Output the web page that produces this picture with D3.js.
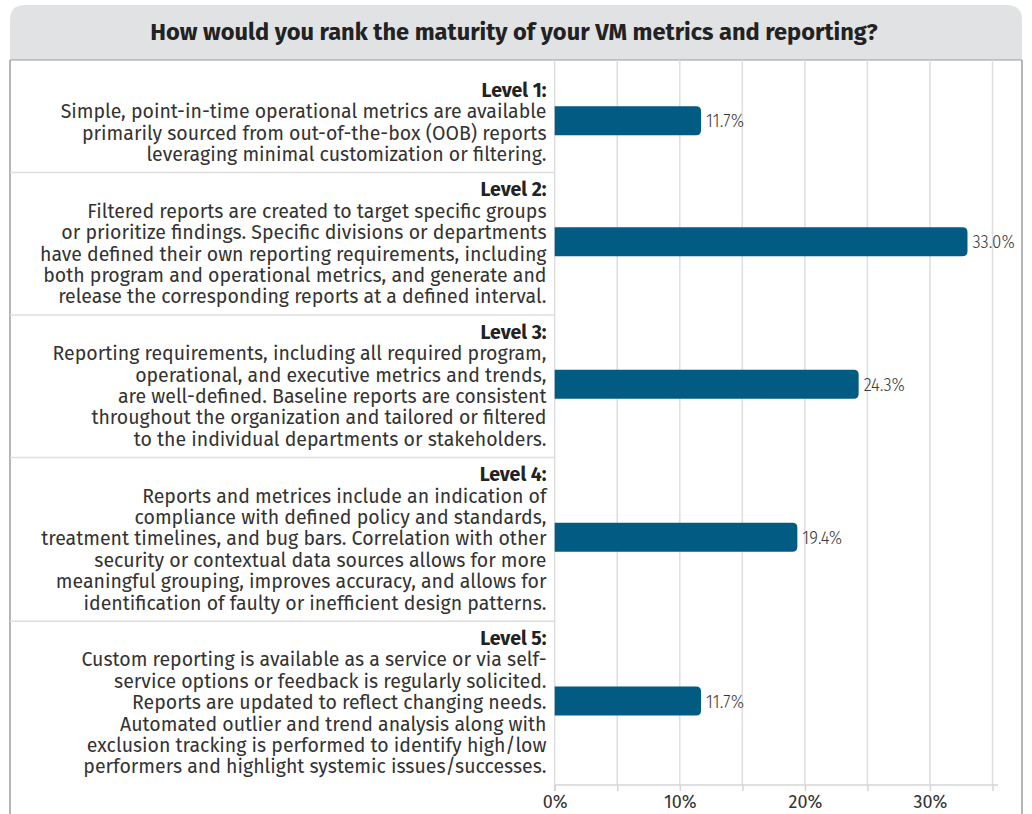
<!DOCTYPE html>
<html>
<head>
<meta charset="utf-8">
<script src="https://cdn.jsdelivr.net/npm/d3@7"></script>
<style>
  html, body { margin: 0; padding: 0; background: #ffffff; }
  svg { display: block; }
</style>
</head>
<body>
<svg id="chart" width="1032" height="814"></svg>
<script>
// Survey question and answer data
const title = "How would you rank the maturity of your VM metrics and reporting?";
const levels = ["Level 1:", "Level 2:", "Level 3:", "Level 4:", "Level 5:"];
const descriptions = [
  ["Simple, point-in-time operational metrics are available",
   "primarily sourced from out-of-the-box (OOB) reports",
   "leveraging minimal customization or filtering."],
  ["Filtered reports are created to target specific groups",
   "or prioritize findings. Specific divisions or departments",
   "have defined their own reporting requirements, including",
   "both program and operational metrics, and generate and",
   "release the corresponding reports at a defined interval."],
  ["Reporting requirements, including all required program,",
   "operational, and executive metrics and trends,",
   "are well-defined. Baseline reports are consistent",
   "throughout the organization and tailored or filtered",
   "to the individual departments or stakeholders."],
  ["Reports and metrices include an indication of",
   "compliance with defined policy and standards,",
   "treatment timelines, and bug bars. Correlation with other",
   "security or contextual data sources allows for more",
   "meaningful grouping, improves accuracy, and allows for",
   "identification of faulty or inefficient design patterns."],
  ["Custom reporting is available as a service or via self-",
   "service options or feedback is regularly solicited.",
   "Reports are updated to reflect changing needs.",
   "Automated outlier and trend analysis along with",
   "exclusion tracking is performed to identify high/low",
   "performers and highlight systemic issues/successes."]
];
const values = [11.7, 33.0, 24.3, 19.4, 11.7];
const tickValues = [0, 10, 20, 30];
const gridValues = [0, 5, 10, 15, 20, 25, 30, 35];

// Layout
const card = { left: 10, right: 1022, top: 5, headerBottom: 60 };
const plotLeft = 554.7, plotRight = 992.5;
const labelRight = 546.5;
const lineH = 21.4, bandPad = 14, firstPad = 13;
const barH = 29;
const textFont = "'Fira Sans', 'Open Sans', sans-serif";

const svg = d3.select("#chart");

// Card background, header and borders
svg.append("rect")
  .attr("x", card.left).attr("y", card.headerBottom)
  .attr("width", card.right - card.left).attr("height", 814 - card.headerBottom + 10)
  .attr("fill", "#ffffff");

const r = 15;
svg.append("path")
  .attr("d", `M${card.left},${card.headerBottom} V${card.top + r} Q${card.left},${card.top} ${card.left + r},${card.top}
              H${card.right - r} Q${card.right},${card.top} ${card.right},${card.top + r} V${card.headerBottom} Z`)
  .attr("fill", "#e1e2e3");

svg.append("line")
  .attr("x1", card.left).attr("x2", card.right)
  .attr("y1", card.headerBottom).attr("y2", card.headerBottom)
  .attr("stroke", "#9a9a9a").attr("stroke-width", 1.2);

[card.left, card.right].forEach(x => {
  svg.append("line")
    .attr("x1", x).attr("x2", x)
    .attr("y1", card.headerBottom).attr("y2", 814)
    .attr("stroke", "#b5b5b5").attr("stroke-width", 2);
});

svg.append("text")
  .attr("x", 514).attr("y", 39.5)
  .attr("text-anchor", "middle")
  .attr("font-family", textFont)
  .attr("font-weight", 700)
  .attr("font-size", 23.6)
  .attr("fill", "#222222")
  .text(title);

// Band layout: each category's height follows its number of text lines
const bands = [];
let yCursor = card.headerBottom + firstPad;
levels.forEach((lvl, i) => {
  const nLines = descriptions[i].length + 1;
  const h = nLines * lineH + bandPad;
  bands.push({ level: lvl, lines: descriptions[i], value: values[i], y0: yCursor, y1: yCursor + h, n: nLines });
  yCursor += h;
});
const plotBottom = yCursor;

const x = d3.scaleLinear().domain([0, 35]).range([plotLeft, plotRight]);

// Vertical gridlines
svg.append("g")
  .selectAll("line")
  .data(gridValues)
  .join("line")
  .attr("x1", d => x(d)).attr("x2", d => x(d))
  .attr("y1", card.headerBottom).attr("y2", plotBottom)
  .attr("stroke", "#dedede").attr("stroke-width", 1.5);

// Horizontal separators in label column
svg.append("g")
  .selectAll("line")
  .data(bands.slice(1))
  .join("line")
  .attr("x1", card.left).attr("x2", plotLeft)
  .attr("y1", d => d.y0).attr("y2", d => d.y0)
  .attr("stroke", "#dedede").attr("stroke-width", 1.5);

// X axis
const axis = svg.append("g")
  .attr("transform", `translate(0,${plotBottom})`)
  .call(d3.axisBottom(x).tickValues(gridValues).tickSize(6).tickFormat(d => tickValues.includes(d) ? d + "%" : ""));
axis.select(".domain")
  .attr("d", `M${plotLeft},6V0H${plotRight + 5.5}`)
  .attr("stroke", "#d6d6d6").attr("stroke-width", 1.5);
axis.selectAll(".tick line").attr("stroke", "#d6d6d6").attr("stroke-width", 1.5);
axis.selectAll(".tick text")
  .attr("y", 10)
  .attr("font-family", textFont)
  .attr("font-size", 18)
  .attr("fill", "#333333");

// Category labels
const labelG = svg.append("g")
  .attr("font-family", textFont)
  .attr("font-size", 19.5)
  .attr("fill", "#333333")
  .attr("text-anchor", "end");

bands.forEach(b => {
  const mid = (b.y0 + b.y1) / 2;
  const firstBaseline = mid - (b.n - 1) * lineH / 2 + 6;
  const t = labelG.append("text").attr("x", labelRight).attr("y", firstBaseline);
  t.append("tspan").attr("x", labelRight).attr("font-weight", 700).attr("fill", "#222222").text(b.level);
  b.lines.forEach(line => {
    t.append("tspan").attr("x", labelRight).attr("dy", lineH).text(line);
  });
});

// Bars with rounded end
function barPath(x0, x1, yc, h, rad) {
  const y0 = yc - h / 2, y1 = yc + h / 2;
  const rr = Math.min(rad, x1 - x0);
  return `M${x0},${y0}H${x1 - rr}Q${x1},${y0} ${x1},${y0 + rr}V${y1 - rr}Q${x1},${y1} ${x1 - rr},${y1}H${x0}Z`;
}

svg.append("g")
  .selectAll("path")
  .data(bands)
  .join("path")
  .attr("d", d => barPath(x(0), x(d.value), (d.y0 + d.y1) / 2 - 2, barH, 5))
  .attr("fill", "#015b82");

// Value labels
svg.append("g")
  .selectAll("text")
  .data(bands)
  .join("text")
  .attr("x", d => x(d.value) + 5)
  .attr("y", d => (d.y0 + d.y1) / 2 - 2)
  .attr("dy", "0.36em")
  .attr("font-family", "'Fira Sans Condensed', 'Fira Sans', sans-serif")
  .attr("font-weight", 300)
  .attr("font-size", 18.5)
  .attr("fill", "#3a3a3a")
  .text(d => d.value.toFixed(1) + "%");
</script>
</body>
</html>
